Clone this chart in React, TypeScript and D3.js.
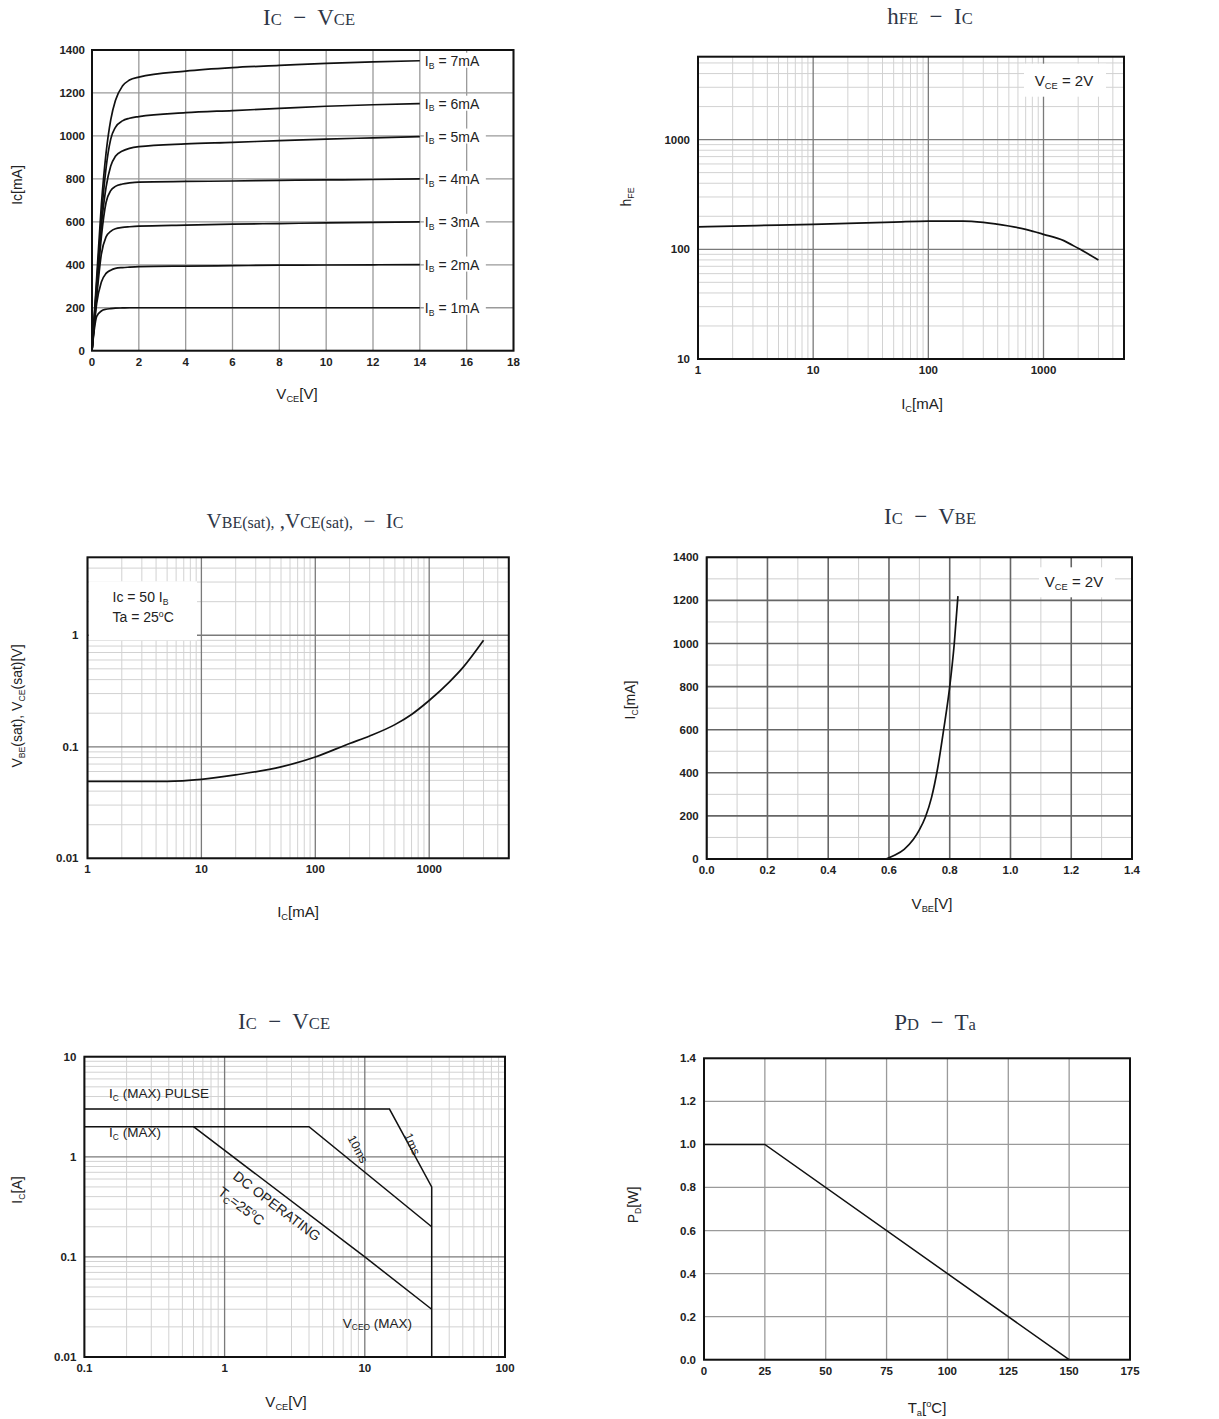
import * as d3 from "d3";

const SANS = "'Liberation Sans', Arial, sans-serif";
const SERIF = "'Liberation Serif', 'DejaVu Serif', serif";

// ---------- Ic - VCE (output characteristics) ----------
const outputVce = [0, 0.1, 0.2, 0.4, 0.6, 0.8, 1.0, 1.3, 1.6, 2, 4, 6, 8, 10, 12, 14];
const ib1 = [0, 100, 160, 185, 193, 196, 198, 199, 200, 200, 200, 200, 200, 200, 200, 200];
const ib2 = [0, 120, 220, 320, 360, 375, 383, 387, 389, 391, 394, 396, 398, 399, 400, 401];
const ib3 = [0, 130, 250, 450, 530, 556, 568, 574, 577, 580, 585, 589, 592, 595, 597, 600];
const ib4 = [0, 140, 270, 530, 690, 745, 765, 776, 781, 785, 788, 790, 793, 795, 797, 800];
const ib5 = [0, 150, 290, 580, 760, 860, 905, 930, 942, 950, 963, 970, 978, 985, 991, 997];
const ib6 = [0, 160, 310, 620, 850, 985, 1040, 1070, 1082, 1090, 1108, 1118, 1128, 1138, 1145, 1150];
const ib7 = [0, 170, 340, 680, 920, 1075, 1165, 1232, 1260, 1274, 1302, 1318, 1328, 1338, 1345, 1350];
const ibCurves = [ib1, ib2, ib3, ib4, ib5, ib6, ib7];
const ibNames = ["1mA", "2mA", "3mA", "4mA", "5mA", "6mA", "7mA"];
const p1XTicks = [0, 2, 4, 6, 8, 10, 12, 14, 16, 18];
const p1YTicks = [0, 200, 400, 600, 800, 1000, 1200, 1400];

// ---------- hFE - Ic ----------
const hfeIc = [1, 2, 5, 10, 20, 50, 100, 200, 300, 500, 700, 1000, 1500, 2000, 3000];
const hfeVals = [160, 163, 166, 169, 172, 177, 181, 181, 176, 163, 152, 137, 120, 102, 80];
const p2XTicks = [1, 10, 100, 1000];
const p2YTicks = [10, 100, 1000];

// ---------- VBE(sat), VCE(sat) - Ic ----------
const satIc = [1, 3, 5, 10, 20, 50, 100, 200, 300, 500, 700, 1000, 1500, 2000, 3000];
const satV = [0.049, 0.049, 0.049, 0.051, 0.056, 0.066, 0.081, 0.107, 0.125, 0.158, 0.195, 0.26, 0.38, 0.52, 0.9];
const p3XTicks = [1, 10, 100, 1000];
const p3YTicks = [0.01, 0.1, 1];

// ---------- Ic - VBE ----------
const vbeV = [0.59, 0.62, 0.65, 0.68, 0.7, 0.72, 0.74, 0.76, 0.78, 0.8, 0.815, 0.827];
const vbeIc = [0, 18, 45, 90, 135, 195, 285, 420, 600, 800, 1000, 1220];
const p4XTicks = [0, 0.2, 0.4, 0.6, 0.8, 1.0, 1.2, 1.4];
const p4XMinor = [0.1, 0.3, 0.5, 0.7, 0.9, 1.1, 1.3];
const p4YTicks = [0, 200, 400, 600, 800, 1000, 1200, 1400];
const p4YMinor = [100, 300, 500, 700, 900, 1100, 1300];

// ---------- safe operating area ----------
const pulseV = [0.1, 15, 30, 30];
const pulseI = [3, 3, 0.5, 0.01];
const maxV = [0.1, 4, 30];
const maxI = [2, 2, 0.2];
const dcV = [0.6, 10, 30];
const dcI = [2, 0.1, 0.03];
const p5XTicks = [0.1, 1, 10, 100];
const p5YTicks = [0.01, 0.1, 1, 10];

// ---------- PD - Ta ----------
const taTemps = [0, 25, 150];
const pdWatts = [1.0, 1.0, 0];
const p6XTicks = [0, 25, 50, 75, 100, 125, 150, 175];
const p6YTicks = [0, 0.2, 0.4, 0.6, 0.8, 1.0, 1.2, 1.4];

type Frame = { x0: number; x1: number; y0: number; y1: number };
const F1: Frame = { x0: 92, x1: 513.5, y0: 50, y1: 350.7 };
const F2: Frame = { x0: 698, x1: 1124, y0: 56.7, y1: 359 };
const F3: Frame = { x0: 87.5, x1: 508.8, y0: 557.3, y1: 858.3 };
const F4: Frame = { x0: 706.7, x1: 1132, y0: 557.3, y1: 859 };
const F5: Frame = { x0: 84.4, x1: 505, y0: 1056.7, y1: 1357 };
const F6: Frame = { x0: 704, x1: 1130, y0: 1058.3, y1: 1359.7 };

// minor grid values between decades (2..9 x 10^n)
function logMinor(lo: number, hi: number) {
  const out: number[] = [];
  for (let e = Math.floor(Math.log10(lo)); e <= Math.ceil(Math.log10(hi)); e++) {
    for (let k = 2; k <= 9; k++) {
      const v = k * Math.pow(10, e);
      if (v > lo && v < hi) out.push(v);
    }
  }
  return out;
}

// tiny markup: _{sub} ^{sup} ~{small}
function Rich({
  x, y, s, size, anchor = "middle", family = SANS, weight = 400, fill = "#222", rotate = 0, small = 0.76,
}: {
  x: number; y: number; s: string; size: number; anchor?: string; family?: string;
  weight?: number; fill?: string; rotate?: number; small?: number;
}) {
  const bits = s.split(/(_\{[^}]*\}|\^\{[^}]*\}|~\{[^}]*\})/).filter((b) => b.length);
  let shift = 0;
  return (
    <text
      x={x}
      y={y}
      fontSize={size}
      fontFamily={family}
      fontWeight={weight}
      fill={fill}
      textAnchor={anchor as any}
      style={{ whiteSpace: "pre" }}
      transform={rotate ? `rotate(${rotate} ${x} ${y})` : undefined}
    >
      {bits.map((b, i) => {
        let fs = size;
        let target = 0;
        let t = b;
        if (b.startsWith("_{")) { fs = size * 0.62; target = size * 0.2; t = b.slice(2, -1); }
        else if (b.startsWith("^{")) { fs = size * 0.62; target = -size * 0.4; t = b.slice(2, -1); }
        else if (b.startsWith("~{")) { fs = size * small; t = b.slice(2, -1); }
        const dy = target - shift;
        shift = target;
        return (
          <tspan key={i} fontSize={fs} dy={dy}>
            {t}
          </tspan>
        );
      })}
    </text>
  );
}

function Grid({
  f, x, y, xs, ys, color, width,
}: {
  f: Frame; x: (v: number) => number; y: (v: number) => number; xs: number[]; ys: number[];
  color: string; width: number;
}) {
  return (
    <g stroke={color} strokeWidth={width}>
      {xs.map((v, i) => (
        <line key={"x" + i} x1={x(v)} x2={x(v)} y1={f.y0} y2={f.y1} />
      ))}
      {ys.map((v, i) => (
        <line key={"y" + i} x1={f.x0} x2={f.x1} y1={y(v)} y2={y(v)} />
      ))}
    </g>
  );
}

function TickLabels({
  f, x, y, xs, ys, fmtX = String, fmtY = String, yPad = 7,
}: {
  f: Frame; x: (v: number) => number; y: (v: number) => number; xs: number[]; ys: number[];
  fmtX?: (v: number) => string; fmtY?: (v: number) => string; yPad?: number;
}) {
  return (
    <g fontFamily={SANS} fontWeight={700} fontSize={11.5} fill="#222">
      {xs.map((v, i) => (
        <text key={"x" + i} x={x(v)} y={f.y1 + 15} textAnchor="middle">
          {fmtX(v)}
        </text>
      ))}
      {ys.map((v, i) => (
        <text key={"y" + i} x={f.x0 - yPad} y={y(v) + 4} textAnchor="end">
          {fmtY(v)}
        </text>
      ))}
    </g>
  );
}

function Border({ f }: { f: Frame }) {
  return (
    <rect x={f.x0} y={f.y0} width={f.x1 - f.x0} height={f.y1 - f.y0} fill="none" stroke="#111" strokeWidth={2} />
  );
}

const TITLE_FILL = "#2e3646";
const SEP = "\u00a0 −\u00a0 ";

export default function App() {
  // panel 1
  const x1 = d3.scaleLinear().domain([0, 18]).range([F1.x0, F1.x1]);
  const y1 = d3.scaleLinear().domain([0, 1400]).range([F1.y1, F1.y0]);
  const line1 = d3
    .line<number>()
    .x((_, i) => x1(outputVce[i]))
    .y((d) => y1(d))
    .curve(d3.curveMonotoneX);

  // panel 2
  const x2 = d3.scaleLog().domain([1, 5000]).range([F2.x0, F2.x1]);
  const y2 = d3.scaleLog().domain([10, 5700]).range([F2.y1, F2.y0]);
  const line2 = d3
    .line<number>()
    .x((d) => x2(d))
    .y((_, i) => y2(hfeVals[i]))
    .curve(d3.curveMonotoneX);

  // panel 3
  const x3 = d3.scaleLog().domain([1, 5000]).range([F3.x0, F3.x1]);
  const y3 = d3.scaleLog().domain([0.01, 5]).range([F3.y1, F3.y0]);
  const line3 = d3
    .line<number>()
    .x((d) => x3(d))
    .y((_, i) => y3(satV[i]))
    .curve(d3.curveMonotoneX);

  // panel 4
  const x4 = d3.scaleLinear().domain([0, 1.4]).range([F4.x0, F4.x1]);
  const y4 = d3.scaleLinear().domain([0, 1400]).range([F4.y1, F4.y0]);
  const line4 = d3
    .line<number>()
    .x((d) => x4(d))
    .y((_, i) => y4(vbeIc[i]))
    .curve(d3.curveMonotoneX);

  // panel 5
  const x5 = d3.scaleLog().domain([0.1, 100]).range([F5.x0, F5.x1]);
  const y5 = d3.scaleLog().domain([0.01, 10]).range([F5.y1, F5.y0]);
  const soa = (vs: number[], is: number[]) =>
    d3.line<number>().x((d) => x5(d)).y((_, i) => y5(is[i]))(vs) ?? "";
  const angle = (va: number, ia: number, vb: number, ib: number) =>
    (Math.atan2(y5(ib) - y5(ia), x5(vb) - x5(va)) * 180) / Math.PI;
  const dcAngle = angle(dcV[0], dcI[0], dcV[1], dcI[1]);

  // panel 6
  const x6 = d3.scaleLinear().domain([0, 175]).range([F6.x0, F6.x1]);
  const y6 = d3.scaleLinear().domain([0, 1.4]).range([F6.y1, F6.y0]);
  const line6 = d3
    .line<number>()
    .x((d) => x6(d))
    .y((_, i) => y6(pdWatts[i]));

  const curve = { fill: "none", stroke: "#111", strokeWidth: 1.7 };

  return (
    <svg
      width={1219}
      height={1419}
      style={{ position: "absolute", left: 0, top: 0, background: "#fff" }}
    >
      <rect width={1219} height={1419} fill="#fff" />

      {/* ---------- Ic - VCE ---------- */}
      <Rich x={309} y={25} s={`I~{C}${SEP}V~{CE}`} size={23} small={0.72} family={SERIF} fill={TITLE_FILL} />
      <Grid f={F1} x={x1} y={y1} xs={p1XTicks} ys={p1YTicks} color="#9a9a9a" width={1.3} />
      {ibCurves.map((c, i) => (
        <path key={i} d={line1(c) ?? ""} {...curve} />
      ))}
      {ibCurves.map((c, i) => {
        const lx = x1(14) + 4;
        const ly = y1(c[c.length - 1]);
        return (
          <g key={"l" + i}>
            <rect x={lx} y={ly - 8} width={62} height={15} fill="#fff" />
            <Rich x={lx + 1} y={ly + 5} s={`I_{B} = ${ibNames[i]}`} size={14} anchor="start" />
          </g>
        );
      })}
      <Border f={F1} />
      <TickLabels f={F1} x={x1} y={y1} xs={p1XTicks} ys={p1YTicks} yPad={7} />
      <Rich x={22} y={185} s="Ic[mA]" size={14} rotate={-90} />
      <Rich x={297} y={399} s="V_{CE}[V]" size={15} />

      {/* ---------- hFE - Ic ---------- */}
      <Rich x={930} y={24} s={`h~{FE}${SEP}I~{C}`} size={23} small={0.72} family={SERIF} fill={TITLE_FILL} />
      <Grid f={F2} x={x2} y={y2} xs={logMinor(1, 5000)} ys={logMinor(10, 5700)} color="#d2d2d2" width={1} />
      <Grid f={F2} x={x2} y={y2} xs={p2XTicks} ys={p2YTicks} color="#7a7a7a" width={1.3} />
      <path d={line2(hfeIc) ?? ""} {...curve} />
      <rect x={F2.x1 - 100} y={F2.y0 + 7} width={82} height={33} fill="#fff" />
      <Rich x={F2.x1 - 60} y={F2.y0 + 29} s="V_{CE} = 2V" size={15} />
      <Border f={F2} />
      <TickLabels f={F2} x={x2} y={y2} xs={p2XTicks} ys={p2YTicks} yPad={8} />
      <Rich x={631} y={197} s="h_{FE}" size={14} rotate={-90} />
      <Rich x={922} y={409} s="I_{C}[mA]" size={15} />

      {/* ---------- VBE(sat), VCE(sat) - Ic ---------- */}
      <Rich
        x={305}
        y={528}
        s={`V~{BE(sat),} ,V~{CE(sat),}${SEP}I~{C}`}
        size={21}
        small={0.76}
        family={SERIF}
        fill={TITLE_FILL}
      />
      <Grid f={F3} x={x3} y={y3} xs={logMinor(1, 5000)} ys={logMinor(0.01, 5)} color="#d2d2d2" width={1} />
      <Grid f={F3} x={x3} y={y3} xs={p3XTicks} ys={p3YTicks} color="#7a7a7a" width={1.3} />
      <rect x={F3.x0 + 1.5} y={F3.y0 + 24} width={108} height={59} fill="#fff" />
      <Rich x={F3.x0 + 25} y={F3.y0 + 45} s="Ic = 50 I_{B}" size={14} anchor="start" />
      <Rich x={F3.x0 + 25} y={F3.y0 + 65} s="Ta = 25^{o}C" size={14} anchor="start" />
      <path d={line3(satIc) ?? ""} {...curve} />
      <Border f={F3} />
      <TickLabels f={F3} x={x3} y={y3} xs={p3XTicks} ys={p3YTicks} yPad={9} />
      <Rich x={22} y={706} s="V_{BE}(sat), V_{CE}(sat)[V]" size={14} rotate={-90} />
      <Rich x={298} y={917} s="I_{C}[mA]" size={15} />

      {/* ---------- Ic - VBE ---------- */}
      <Rich x={930} y={524} s={`I~{C}${SEP}V~{BE}`} size={23} small={0.72} family={SERIF} fill={TITLE_FILL} />
      <Grid f={F4} x={x4} y={y4} xs={p4XMinor} ys={p4YMinor} color="#cfcfcf" width={1} />
      <Grid f={F4} x={x4} y={y4} xs={p4XTicks} ys={p4YTicks} color="#666" width={1.6} />
      <rect x={F4.x1 - 93} y={F4.y0 + 10} width={76} height={30} fill="#fff" />
      <Rich x={F4.x1 - 58} y={F4.y0 + 30} s="V_{CE} = 2V" size={15} />
      <path d={line4(vbeV) ?? ""} {...curve} />
      <Border f={F4} />
      <TickLabels f={F4} x={x4} y={y4} xs={p4XTicks} ys={p4YTicks} fmtX={(v) => v.toFixed(1)} yPad={8} />
      <Rich x={635} y={700} s="I_{C}[mA]" size={14} rotate={-90} />
      <Rich x={932} y={909} s="V_{BE}[V]" size={15} />

      {/* ---------- safe operating area ---------- */}
      <Rich x={284} y={1029} s={`I~{C}${SEP}V~{CE}`} size={23} small={0.72} family={SERIF} fill={TITLE_FILL} />
      <Grid f={F5} x={x5} y={y5} xs={logMinor(0.1, 100)} ys={logMinor(0.01, 10)} color="#d2d2d2" width={1} />
      <Grid f={F5} x={x5} y={y5} xs={p5XTicks} ys={p5YTicks} color="#7a7a7a" width={1.3} />
      <path d={soa(pulseV, pulseI)} {...curve} strokeWidth={1.5} />
      <path d={soa(maxV, maxI)} {...curve} strokeWidth={1.5} />
      <path d={soa(dcV, dcI)} {...curve} strokeWidth={1.5} />
      <Rich x={x5(0.15)} y={y5(4.3) + 5} s="I_{C} (MAX) PULSE" size={13.5} anchor="start" />
      <Rich x={x5(0.15)} y={y5(1.75) + 5} s="I_{C} (MAX)" size={13.5} anchor="start" />
      <Rich x={x5(2.25)} y={y5(0.33) + 5} s="DC OPERATING" size={14} rotate={dcAngle} />
      <Rich x={x5(1.25)} y={y5(0.33) + 5} s="T_{C}=25^{o}C" size={14} rotate={dcAngle} />
      <Rich x={x5(20.5)} y={y5(1.45) + 5} s="1ms" size={12} rotate={66} />
      <Rich x={x5(8.4)} y={y5(1.28) + 5} s="10ms" size={12} rotate={62} />
      <Rich x={x5(12.3)} y={y5(0.022) + 5} s="V_{CEO} (MAX)" size={13.5} anchor="middle" />
      <Border f={F5} />
      <TickLabels f={F5} x={x5} y={y5} xs={p5XTicks} ys={p5YTicks} yPad={8} />
      <Rich x={22} y={1190} s="I_{C}[A]" size={14} rotate={-90} />
      <Rich x={286} y={1407} s="V_{CE}[V]" size={15} />

      {/* ---------- PD - Ta ---------- */}
      <Rich x={935} y={1030} s={`P~{D}${SEP}T~{a}`} size={23} small={0.72} family={SERIF} fill={TITLE_FILL} />
      <Grid f={F6} x={x6} y={y6} xs={p6XTicks} ys={p6YTicks} color="#9a9a9a" width={1.3} />
      <path d={line6(taTemps) ?? ""} {...curve} strokeWidth={1.5} />
      <Border f={F6} />
      <TickLabels f={F6} x={x6} y={y6} xs={p6XTicks} ys={p6YTicks} fmtY={(v) => v.toFixed(1)} yPad={8} />
      <Rich x={638} y={1205} s="P_{D}[W]" size={14} rotate={-90} />
      <Rich x={927} y={1413} s="T_{a}[^{o}C]" size={15} />
    </svg>
  );
}
